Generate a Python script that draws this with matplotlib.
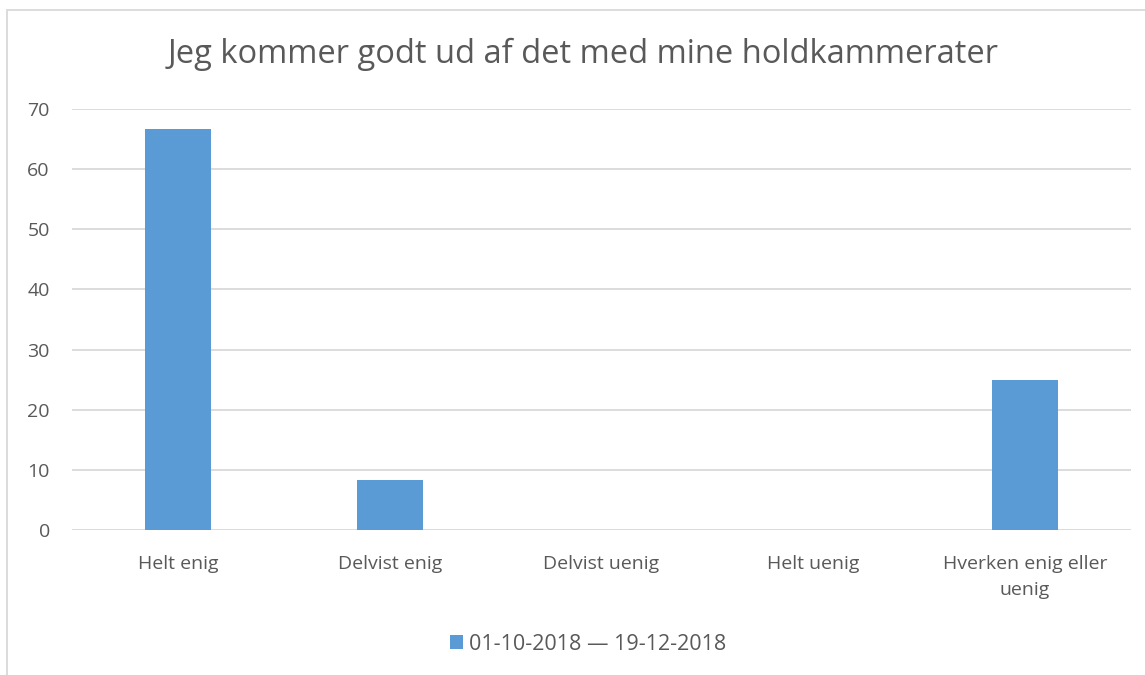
import matplotlib
matplotlib.use('Agg')
import matplotlib.pyplot as plt
from matplotlib.patches import Rectangle
import numpy as np

plt.rcParams['font.family'] = ['Open Sans', 'DejaVu Sans']

title = "Jeg kommer godt ud af det med mine holdkammerater"
categories = ["Helt enig", "Delvist enig", "Delvist uenig", "Helt uenig",
              "Hverken enig eller\nuenig"]
values = [66.67, 8.33, 0, 0, 25.0]
series_label = "01-10-2018 \u2014 19-12-2018"
yticks = [0, 10, 20, 30, 40, 50, 60, 70]

text_col = "#595959"
grid_col = "#d9d9d9"
bar_col = "#5b9bd5"

W, H = 1145, 675
fig = plt.figure(figsize=(W / 100, H / 100), dpi=100)
fig.patch.set_facecolor("white")

# outer chart border (cut off at right and bottom)
fig.patches.append(Rectangle((7 / W, -0.01), 1.02, 1 - 10 / H + 0.01,
                             transform=fig.transFigure, fill=False,
                             edgecolor=grid_col, linewidth=1.3))

ax = fig.add_axes([72 / W, 1 - 530 / H, (1131 - 72) / W, (530 - 109) / H])
x = np.arange(len(categories))
ax.bar(x, values, width=0.31, color=bar_col, label=series_label, zorder=3)
ax.set_xlim(-0.5, len(categories) - 0.5)
ax.set_ylim(0, 70)
ax.set_yticks(yticks)
ax.set_xticks(x)
ax.set_xticklabels(categories, linespacing=1.6)
ax.yaxis.grid(True, color=grid_col, linewidth=1.3, zorder=0)
for s in ax.spines.values():
    s.set_visible(False)
ax.tick_params(axis='both', length=0, labelsize=14, colors=text_col)
ax.tick_params(axis='y', pad=16)
ax.tick_params(axis='x', pad=18)

fig.text(583.5 / W, 1 - 54 / H, title, ha='center', va='center',
         fontsize=23.5, color=text_col)

leg = fig.legend(loc='center', bbox_to_anchor=(588 / W, 1 - 644 / H), frameon=False,
                 fontsize=15.5, handlelength=0.6, handleheight=0.6,
                 handletextpad=0.25, labelcolor=text_col)

fig.savefig("out.png", dpi=100, facecolor="white")
